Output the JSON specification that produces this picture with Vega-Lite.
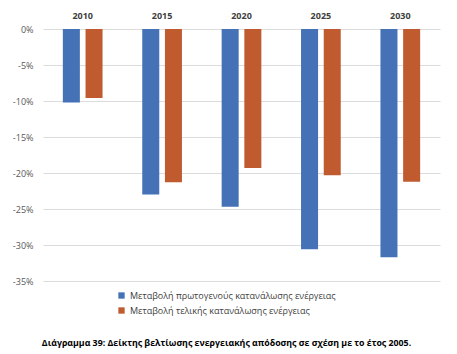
{
  "$schema": "https://vega.github.io/schema/vega-lite/v6.json",
  "autosize": {"type": "none"},
  "width": 397,
  "height": 252,
  "padding": {"left": 43, "top": 29, "right": 17, "bottom": 73},
  "background": "white",
  "config": {
    "view": {"stroke": null},
    "font": "Open Sans"
  },
  "title": {
    "text": "Διάγραμμα 39: Δείκτης βελτίωσης ενεργειακής απόδοσης σε σχέση με το έτος 2005.",
    "orient": "bottom",
    "anchor": "middle",
    "fontSize": 8.8,
    "fontWeight": "bold",
    "color": "#000000",
    "offset": 23,
    "dx": -15
  },
  "data": {
    "values": [
      {"year": "2010", "series": "Μεταβολή πρωτογενούς κατανάλωσης ενέργειας", "value": -10.2},
      {"year": "2010", "series": "Μεταβολή τελικής κατανάλωσης ενέργειας", "value": -9.6},
      {"year": "2015", "series": "Μεταβολή πρωτογενούς κατανάλωσης ενέργειας", "value": -23.0},
      {"year": "2015", "series": "Μεταβολή τελικής κατανάλωσης ενέργειας", "value": -21.3},
      {"year": "2020", "series": "Μεταβολή πρωτογενούς κατανάλωσης ενέργειας", "value": -24.7},
      {"year": "2020", "series": "Μεταβολή τελικής κατανάλωσης ενέργειας", "value": -19.3},
      {"year": "2025", "series": "Μεταβολή πρωτογενούς κατανάλωσης ενέργειας", "value": -30.6},
      {"year": "2025", "series": "Μεταβολή τελικής κατανάλωσης ενέργειας", "value": -20.3},
      {"year": "2030", "series": "Μεταβολή πρωτογενούς κατανάλωσης ενέργειας", "value": -31.7},
      {"year": "2030", "series": "Μεταβολή τελικής κατανάλωσης ενέργειας", "value": -21.2}
    ]
  },
  "mark": {"type": "bar"},
  "encoding": {
    "x": {
      "field": "year",
      "type": "nominal",
      "scale": {"paddingInner": 0.5, "paddingOuter": 0.25},
      "axis": {
        "orient": "top",
        "title": null,
        "labelAngle": 0,
        "labelFontWeight": "bold",
        "labelFontSize": 9,
        "labelColor": "#404040",
        "domain": false,
        "ticks": false,
        "labelPadding": 9
      }
    },
    "xOffset": {
      "field": "series",
      "type": "nominal",
      "scale": {"paddingInner": 0.25, "paddingOuter": 0}
    },
    "y": {
      "field": "value",
      "type": "quantitative",
      "scale": {"domain": [-35, 0], "nice": false},
      "axis": {
        "title": null,
        "values": [0, -5, -10, -15, -20, -25, -30, -35],
        "labelExpr": "datum.value + '%'",
        "labelFontSize": 9,
        "labelColor": "#595959",
        "domain": false,
        "ticks": false,
        "labelPadding": 10,
        "gridColor": "#dcdcdc",
        "gridWidth": 1
      }
    },
    "color": {
      "field": "series",
      "type": "nominal",
      "scale": {
        "domain": ["Μεταβολή πρωτογενούς κατανάλωσης ενέργειας", "Μεταβολή τελικής κατανάλωσης ενέργειας"],
        "range": ["#4571b7", "#c05b30"]
      },
      "legend": {
        "title": null,
        "orient": "none",
        "legendX": 74,
        "legendY": 262,
        "direction": "vertical",
        "symbolType": "square",
        "symbolSize": 40,
        "symbolStrokeWidth": 0,
        "labelFontSize": 9,
        "labelColor": "#404040",
        "rowPadding": 5,
        "labelLimit": 400
      }
    }
  }
}
